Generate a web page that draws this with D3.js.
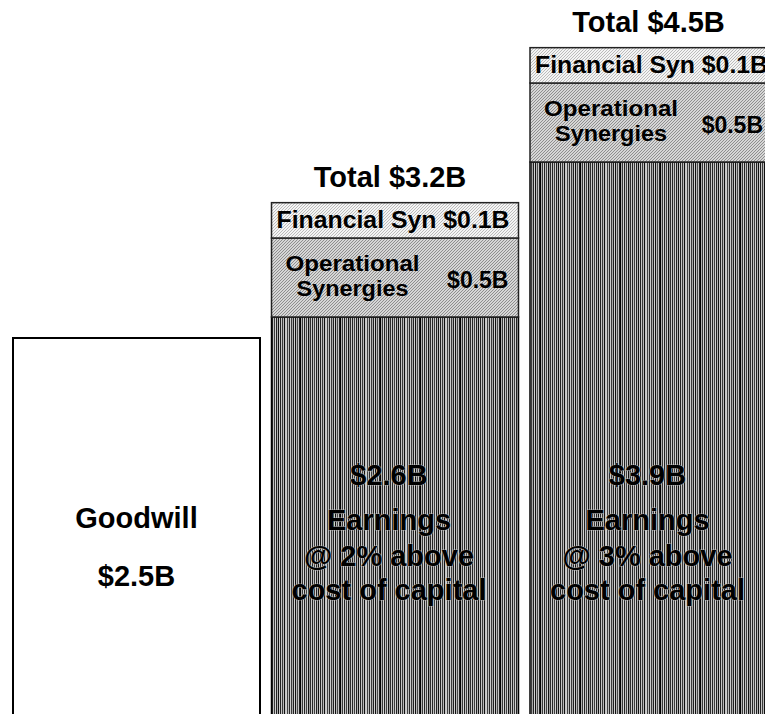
<!DOCTYPE html>
<html>
<head>
<meta charset="utf-8">
<script src="https://cdn.jsdelivr.net/npm/d3@7"></script>
<style>
  body { margin: 0; background: #fff; }
  svg { display: block; font-family: "Liberation Sans", Arial, sans-serif; font-weight: bold; }
</style>
</head>
<body>
<div id="chart"></div>
<script>
// Goodwill vs. value created by the deal (schematic stacked bars)
const categories = ['goodwill', 'scenario2', 'scenario3'];
const goodwill = [2.5, null, null];
const earnings = [null, 2.6, 3.9];
const operational = [null, 0.5, 0.5];
const financial = [null, 0.1, 0.1];
const totals = [null, 3.2, 4.5];
const spreads = [null, '2%', '3%'];

const width = 765, height = 714;

const svg = d3.select('#chart').append('svg')
    .attr('width', width)
    .attr('height', height);

// x: three equal bands, the last one runs off the right edge
const x = d3.scaleBand()
    .domain(categories)
    .range([13, 777])
    .paddingInner(0.0445)
    .paddingOuter(0);

// y: the original is not drawn to scale, so use a polylinear scale
const y = d3.scaleLinear()
    .domain([0, 2.5, 2.6, 3.9])
    .range([730, 338, 317, 162]);

// synergy layers get their own (compressed) height scale
const h = d3.scaleSqrt()
    .domain([0, 0.5])
    .range([0, 79]);

// ---- patterns
const defs = svg.append('defs');

const stripeColors = ['#222', '#c8c8c8', '#3a3a3a', '#b8b8b8', '#111', '#c4c4c4', '#d0d0d0', '#444',
    '#bcbcbc', '#2a2a2a', '#cccccc', '#3c3c3c', '#a8a8a8', '#222', '#d2d2d2', '#111',
    '#b8b8b8', '#4a4a4a', '#c8c8c8', '#222', '#000', '#b0b0b0', '#383838', '#d4d4d4',
    '#222', '#c0c0c0', '#404040', '#cacaca', '#111', '#9a9a9a', '#2c2c2c', '#c8c8c8',
    '#262626', '#c0c0c0', '#3c3c3c', '#d0d0d0', '#222', '#b0b0b0', '#111', '#cacaca'];
const earnPat = defs.append('pattern')
    .attr('id', 'earn')
    .attr('patternUnits', 'userSpaceOnUse')
    .attr('width', stripeColors.length)
    .attr('height', 4);
earnPat.selectAll('rect')
    .data(stripeColors)
    .enter()
    .append('rect')
    .attr('x', (d, i) => i)
    .attr('y', 0)
    .attr('width', 1)
    .attr('height', 4)
    .attr('fill', d => d);

function hatch(id, bg, fg) {
    const p = defs.append('pattern')
        .attr('id', id)
        .attr('patternUnits', 'userSpaceOnUse')
        .attr('width', 3)
        .attr('height', 3);
    p.append('rect').attr('width', 3).attr('height', 3).attr('fill', bg);
    p.append('path')
        .attr('d', 'M-1,1 L1,-1 M0,3 L3,0 M2,4 L4,2')
        .attr('stroke', fg)
        .attr('stroke-width', 0.9);
}
hatch('oper', '#d6d6d6', '#868686');
hatch('fin', '#f4f4f4', '#b4b4b4');

const dots = defs.append('pattern')
    .attr('id', 'dots')
    .attr('patternUnits', 'userSpaceOnUse')
    .attr('width', 2)
    .attr('height', 2);
dots.append('rect').attr('width', 2).attr('height', 2).attr('fill', '#d8d8d8');
dots.append('rect').attr('width', 1).attr('height', 1).attr('fill', '#555');
dots.append('rect').attr('x', 1).attr('y', 1).attr('width', 1).attr('height', 1).attr('fill', '#555');

// ---- goodwill bar
const gw = categories[0];
svg.append('rect')
    .attr('x', x(gw))
    .attr('y', y(goodwill[0]))
    .attr('width', x.bandwidth())
    .attr('height', y(0) - y(goodwill[0]))
    .attr('fill', '#fff')
    .attr('stroke', '#000')
    .attr('stroke-width', 2);

const gwCx = x(gw) + x.bandwidth() / 2;
svg.append('text')
    .attr('x', gwCx)
    .attr('y', 528)
    .attr('text-anchor', 'middle')
    .attr('font-size', 29)
    .attr('fill', '#000')
    .text('Goodwill');
svg.append('text')
    .attr('x', gwCx)
    .attr('y', 586)
    .attr('text-anchor', 'middle')
    .attr('font-size', 29)
    .attr('fill', '#000')
    .text(`$${goodwill[0]}B`);

// ---- stacked value bars
categories.forEach((cat, i) => {
    if (earnings[i] == null) return;
    const x0 = x(cat);
    const bw = x.bandwidth();
    const cx = x0 + bw / 2;

    const eTop = y(earnings[i]);
    const oTop = eTop - h(operational[i]);
    const fTop = oTop - h(financial[i]);

    // earnings
    svg.append('rect')
        .attr('x', x0).attr('y', eTop)
        .attr('width', bw).attr('height', y(0) - eTop)
        .attr('fill', 'url(#earn)')
        .attr('stroke', '#000').attr('stroke-width', 1.5);

    // operational synergies
    svg.append('rect')
        .attr('x', x0).attr('y', oTop)
        .attr('width', bw).attr('height', eTop - oTop)
        .attr('fill', 'url(#oper)')
        .attr('stroke', '#222').attr('stroke-width', 1.5);

    // financial synergies
    svg.append('rect')
        .attr('x', x0).attr('y', fTop)
        .attr('width', bw).attr('height', oTop - fTop)
        .attr('fill', 'url(#fin)')
        .attr('stroke', '#222').attr('stroke-width', 1.5);

    // total label
    svg.append('text')
        .attr('x', cx - 5)
        .attr('y', fTop - 16)
        .attr('text-anchor', 'middle')
        .attr('font-size', 29)
        .attr('fill', '#000')
        .text(`Total $${totals[i]}B`);

    // financial label
    svg.append('text')
        .attr('x', cx - 2)
        .attr('y', (fTop + oTop) / 2 + 8)
        .attr('text-anchor', 'middle')
        .attr('font-size', 23)
        .attr('textLength', 233)
        .attr('lengthAdjust', 'spacingAndGlyphs')
        .attr('fill', '#000')
        .text(`Financial Syn $${financial[i]}B`);

    // operational label (two separate lines)
    const oMid = (oTop + eTop) / 2;
    svg.append('text')
        .attr('x', x0 + 81)
        .attr('y', oMid - 7)
        .attr('text-anchor', 'middle')
        .attr('font-size', 22)
        .attr('textLength', 134)
        .attr('lengthAdjust', 'spacingAndGlyphs')
        .attr('fill', '#000')
        .text('Operational');
    svg.append('text')
        .attr('x', x0 + 81)
        .attr('y', oMid + 18)
        .attr('text-anchor', 'middle')
        .attr('font-size', 22)
        .attr('textLength', 112)
        .attr('lengthAdjust', 'spacingAndGlyphs')
        .attr('fill', '#000')
        .text('Synergies');
    svg.append('text')
        .attr('x', Math.min(x0 + bw - 10, width - 2))
        .attr('y', oMid + 10)
        .attr('text-anchor', 'end')
        .attr('font-size', 23)
        .attr('fill', '#000')
        .text(`$${operational[i]}B`);

    // earnings labels
    const lines = [
        { t: `$${earnings[i]}B`, y: 485, trail: true },
        { t: 'Earnings', y: 530, trail: true },
        { t: `@ ${spreads[i]} above`, y: 566, trail: false },
        { t: 'cost of capital', y: 600, trail: false }
    ];
    lines.forEach(l => {
        const txt = svg.append('text')
            .attr('x', cx - 6)
            .attr('y', l.y)
            .attr('text-anchor', 'middle')
            .attr('font-size', 29)
            .attr('fill', '#000')
            .attr('stroke', '#bdbdbd')
            .attr('stroke-width', 1.2)
            .attr('stroke-opacity', 0.7)
            .style('paint-order', 'stroke')
            .text(l.t);
        if (l.trail) {
            const bb = txt.node().getBBox();
            svg.insert('rect', 'text')
                .attr('x', bb.x + bb.width + 2)
                .attr('y', l.y - 18)
                .attr('width', Math.max(0, x0 + bw - 4 - (bb.x + bb.width + 2)))
                .attr('height', 18)
                .attr('fill', 'url(#dots)')
                .attr('opacity', 0.55);
        }
    });
});
</script>
</body>
</html>
